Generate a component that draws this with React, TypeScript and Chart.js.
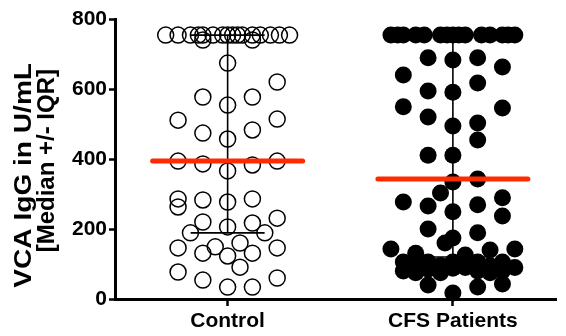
import React, { useEffect, useRef } from 'react';
import { Chart, registerables } from 'chart.js';

Chart.register(...registerables);

const categories = ['Control', 'CFS Patients'];
const yTitleLines = ['VCA IgG in U/mL', '[Median +/- IQR]'];

// horizontal jitter (in category units) and values for each group
const controlOffsets = [
  -0.275, -0.22, -0.165, -0.13, -0.11, -0.065, -0.022, 0, 0.022, 0.044, 0.065, 0.11, 0.145, 0.19, 0.23, 0.275, -0.11, 0.11,
  0, 0.22, -0.11, 0, 0.11, -0.22, 0.22, -0.11, 0.11, 0,
  -0.22, -0.11, 0, 0.11, 0.22,
  -0.22, -0.22, -0.11, 0, 0.11,
  -0.11, 0, 0.11, 0.22, -0.165, 0.165,
  -0.22, -0.11, -0.055, 0, 0.055, 0.11, 0.22, 0.055,
  -0.22, -0.11, 0, 0.11, 0.22,
];
const controlValues = [
  754, 754, 754, 754, 754, 754, 754, 754, 754, 754, 754, 754, 754, 754, 754, 754, 740, 740,
  674, 620, 577, 554, 577, 511, 514, 474, 483, 457,
  394, 386, 366, 383, 394,
  286, 263, 283, 277, 286,
  220, 206, 217, 231, 189, 189,
  146, 131, 149, 123, 160, 131, 146, 91,
  77, 54, 34, 34, 60,
];

const cfsOffsets = [
  -0.275, -0.22, -0.165, -0.127, -0.055, 0, 0.055, 0.127, 0.165, 0.22, 0.275, -0.245, 0.245, -0.026, 0.026,
  -0.11, 0, 0.11, 0.22, -0.22, -0.11, 0, 0.11, -0.22, 0.22, -0.11, 0, 0.11, 0.11, -0.11, 0,
  0, 0.11, -0.055, -0.22, -0.11, 0, 0.11, 0.22, 0.22, -0.11, 0.11, 0, -0.035,
  -0.275, -0.165, 0.275, 0.165, 0.055,
  -0.22, -0.22, -0.165, -0.11, -0.11, -0.055, -0.055, 0, 0, 0.055, 0.11, 0.11, 0.165, 0.22, 0.22, 0.275, -0.165, 0.165,
  -0.11, 0, 0.11, 0.22,
];
const cfsValues = [
  754, 754, 754, 754, 754, 754, 754, 754, 754, 754, 754, 754, 754, 754, 754,
  689, 683, 689, 663, 640, 594, 591, 617, 549, 546, 520, 494, 503, 454, 411, 411,
  334, 343, 303, 277, 266, 249, 269, 289, 237, 200, 189, 174, 160,
  143, 131, 143, 140, 126,
  106, 80, 95, 106, 85, 96, 75, 106, 88, 90, 106, 80, 95, 106, 80, 90, 75, 75,
  40, 17, 34, 43,
];

const medians = [394, 343];
const q1Values = [189, 120];
const q3Values = [754, 754];

const FONT = '"Liberation Sans", Arial, Helvetica, sans-serif';

const summaryPlugin = {
  id: 'summary',
  afterDatasetsDraw(chart: any) {
    const { ctx } = chart;
    const xs = chart.scales.x;
    const ys = chart.scales.y;
    ctx.save();
    categories.forEach((_, i) => {
      const cx = xs.getPixelForValue(i);
      const yq1 = ys.getPixelForValue(q1Values[i]);
      const yq3 = ys.getPixelForValue(q3Values[i]);
      ctx.strokeStyle = '#000';
      ctx.lineWidth = 1.6;
      ctx.lineCap = 'butt';
      ctx.beginPath();
      ctx.moveTo(cx, yq1);
      ctx.lineTo(cx, yq3);
      ctx.moveTo(cx - 37, yq1);
      ctx.lineTo(cx + 37, yq1);
      ctx.moveTo(cx - 37, yq3);
      ctx.lineTo(cx + 37, yq3);
      ctx.stroke();
    });
    categories.forEach((_, i) => {
      const cx = xs.getPixelForValue(i);
      const ym = ys.getPixelForValue(medians[i]);
      ctx.strokeStyle = '#ff2a00';
      ctx.lineWidth = 5;
      ctx.lineCap = 'round';
      ctx.beginPath();
      ctx.moveTo(cx - 75, ym);
      ctx.lineTo(cx + 75, ym);
      ctx.stroke();
    });
    ctx.restore();
  },
};

const titlePlugin = {
  id: 'ytitle',
  afterDraw(chart: any) {
    const { ctx } = chart;
    ctx.save();
    ctx.fillStyle = '#000';
    ctx.font = `bold 24px ${FONT}`;
    ctx.textAlign = 'right';
    ctx.textBaseline = 'middle';
    const xs = [24, 47];
    const tops = [63, 69];
    const stretch = [1.17, 1];
    yTitleLines.forEach((line, j) => {
      ctx.save();
      ctx.translate(xs[j], tops[j]);
      ctx.rotate(-Math.PI / 2);
      ctx.scale(stretch[j], 1);
      ctx.fillText(line, 0, 0);
      ctx.restore();
    });
    ctx.restore();
  },
};

export default function App() {
  const ref = useRef<HTMLCanvasElement | null>(null);
  useEffect(() => {
    if (!ref.current) return;
    const chart = new Chart(ref.current, {
      type: 'scatter',
      data: {
        datasets: [
          {
            label: categories[0],
            data: controlOffsets.map((o, i) => ({ x: 0 + o, y: controlValues[i] })),
            pointRadius: 8,
            pointBorderWidth: 1.5,
            pointBackgroundColor: 'rgba(0,0,0,0)',
            pointBorderColor: '#000',
            clip: false,
          },
          {
            label: categories[1],
            data: cfsOffsets.map((o, i) => ({ x: 1 + o, y: cfsValues[i] })),
            pointRadius: 8.5,
            pointBorderWidth: 0,
            pointBackgroundColor: '#000',
            pointBorderColor: '#000',
            clip: false,
          },
        ],
      },
      options: {
        animation: false,
        responsive: false,
        devicePixelRatio: 1,
        layout: { padding: { top: 19, right: 3, left: 0, bottom: 0 } },
        plugins: { legend: { display: false }, tooltip: { enabled: false } },
        scales: {
          x: {
            type: 'linear',
            min: -0.5,
            max: 1.46,
            afterBuildTicks: (s: any) => {
              s.ticks = categories.map((_, i) => ({ value: i }));
            },
            afterFit: (s: any) => {
              s.height = 37;
            },
            ticks: {
              callback: (v: any) => categories[v] ?? '',
              color: '#000',
              font: { family: FONT, size: 21, weight: 'bold' },
              padding: 3,
              autoSkip: false,
              maxRotation: 0,
            },
            grid: { drawOnChartArea: false, tickLength: 7, tickWidth: 2.5, tickColor: '#000', color: '#000' },
            border: { color: '#000', width: 3 },
          },
          y: {
            min: 0,
            max: 800,
            afterFit: (s: any) => {
              s.width = 115;
            },
            ticks: {
              stepSize: 200,
              color: '#000',
              font: { family: FONT, size: 21, weight: 'bold' },
              padding: 2,
            },
            grid: { drawOnChartArea: false, tickLength: 6, tickWidth: 2.5, tickColor: '#000', color: '#000' },
            border: { color: '#000', width: 3 },
          },
        },
      },
      plugins: [summaryPlugin, titlePlugin],
    });
    return () => chart.destroy();
  }, []);
  return (
    <div style={{ position: 'absolute', left: 0, top: 0, width: 566, height: 336, background: '#fff' }}>
      <canvas ref={ref} width={566} height={336} />
    </div>
  );
}
